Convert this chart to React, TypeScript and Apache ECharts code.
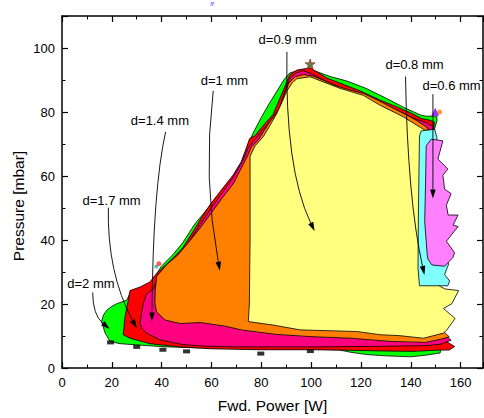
import React, { useEffect, useRef } from "react";
import * as echarts from "echarts";

const FONT = '"Liberation Sans", Arial, Helvetica, sans-serif';

// Axis ranges / ticks
const X_MIN = 0;
const X_MAX = 169;
const X_STEP = 20;
const Y_MIN = 0;
const Y_MAX = 110;
const Y_STEP = 20;

// Existence regions, one polygon per discharge gap d ([power W, pressure mbar])
const REGION_NAMES = ["d=2 mm", "d=1.7 mm", "d=1.4 mm", "d=1 mm", "d=0.9 mm", "d=0.8 mm", "d=0.6 mm"];
const REGION_COLORS = ["#00ff00", "#ff0000", "#ff0080", "#ff8000", "#ffff80", "#80ffff", "#ff80ff"];

const REGION_2MM: number[][] = [
  [15.9, 14.5], [16.6, 16.5], [17.9, 18], [20, 19.3], [22, 20.1], [26, 21.2], [27.3, 23.4], [31.3, 24.9],
  [35.3, 26.5], [38, 29.5], [40, 31.9], [44.5, 35.4], [48.5, 39.2], [53.3, 45], [56, 47.5], [59.3, 50.6],
  [64, 55.3], [68.7, 59.9], [72, 64.2], [74.1, 68.6], [76.7, 73.4], [80, 78.3], [83, 82.4], [86.1, 86.3],
  [89, 90], [91.4, 92.2], [95.4, 93.1], [99.4, 93.4], [103, 92.4], [107.6, 91.1], [114.3, 89.7], [122, 87.4],
  [130.4, 84.2], [137, 81.5], [143.8, 79.1], [146, 78.7], [150.5, 78.7], [150.5, 77.2], [149.3, 74], [149, 27],
  [152, 12], [152, 6], [151.8, 4.7], [146, 4], [140, 3.5], [130, 3.8], [122.4, 4.2], [116, 4.9], [111.6, 5.6],
  [100, 5.9], [80, 5.9], [60, 6.2], [42, 6.6], [34, 7], [23.3, 7.6], [19.3, 8.3], [17.3, 10.9],
];

const REGION_1_7MM: number[][] = [
  [24.6, 10.4], [25.3, 16], [26.6, 21.1], [27.3, 24.2], [31.3, 25.3], [35.3, 26.9], [37.3, 28.9], [40.1, 31.1],
  [44.5, 34.3], [48.5, 37.6], [53.3, 43.5], [56, 47], [59.3, 50.9], [64, 55.7], [68.7, 60.3], [72, 64.5],
  [74.1, 69], [75.3, 71.7], [77.5, 72.6], [80.5, 75.5], [84.7, 79.2], [88.7, 86.5], [91.4, 91.6], [94.3, 93.1],
  [99.6, 93.8], [103, 92.2], [106.3, 90.6], [112, 88.9], [120, 86.5], [128, 83.6], [134.4, 81.6], [139.8, 79.8],
  [144.5, 77.9], [147.8, 77.4], [149.5, 76.8], [149, 74], [149, 27], [152, 12], [154.5, 8.2], [157.6, 6.7],
  [155.5, 5.6], [151.8, 5.6], [141, 5.2], [130, 5.3], [111.6, 5.6], [100, 5.7], [80, 5.7], [60, 6],
  [47.4, 6.6], [35.3, 7.6], [27.3, 9.3],
];

const REGION_1_4MM: number[][] = [
  [36.7, 24.7], [34, 23.2], [32.6, 20.1], [31.8, 16.5], [31.3, 13.9], [32.2, 12.2], [34, 10.9], [39.4, 8.8],
  [43.4, 8.1], [48.7, 7.3], [58.1, 6.8], [70, 6.6], [100, 6.6], [130, 6.8], [146, 7], [151.8, 7.4],
  [156.2, 8.7], [154.5, 9.8], [152, 11.5], [149, 27], [149, 74], [149.3, 75.3], [146.4, 76.6], [142, 77.8],
  [136, 80], [128, 83], [120, 85.5], [112, 87.6], [106, 89.6], [100, 92], [96.9, 92.9], [94, 92.2],
  [91.6, 90.6], [89.5, 86.5], [87.4, 81.3], [84, 77.5], [80, 73.8], [77, 71], [74.7, 68.6], [72.5, 64.8],
  [68.7, 59.5], [65, 55.5], [62, 52.2], [58, 47.8], [53.5, 42.5], [49, 37], [45, 33.8], [41, 30.8], [38.5, 28.2],
];

const REGION_1MM: number[][] = [
  [38, 28.6], [37.4, 24], [37.3, 20.1], [38, 17.5], [41.4, 15], [47.4, 13.9], [55.4, 14.2], [60.8, 13.6],
  [66, 13], [72, 11.9], [86, 10.5], [100, 9.8], [116, 9.3], [132, 8.3], [146, 8], [152, 9], [155.5, 9.7],
  [153, 11.5], [149, 27], [149, 74], [146.8, 74.6], [146.4, 75.3], [142.4, 77.3], [139, 78.8], [134.4, 80.6],
  [127, 83.6], [121, 85.8], [115, 87], [110, 88.2], [104.9, 89.9], [101, 91.2], [97, 91.7], [93.5, 91],
  [91, 89], [89, 85], [87, 80.5], [83, 76.5], [79, 71.5], [76, 69], [74.5, 66.3], [72, 62.5], [68.8, 57.6],
  [64, 52.8], [60, 48.5], [55.4, 43.7], [50, 38.5], [46.5, 35.3], [42, 32.3],
];

const REGION_0_9MM: number[][] = [
  [74.8, 14.5], [75.2, 20], [75.5, 40], [75.5, 66.2], [77.5, 69.4], [80.8, 72.3], [83.5, 75.8], [86.2, 79.5],
  [88, 82.5], [90.2, 86.5], [92.5, 89.2], [94.3, 90.4], [99.6, 91], [104.9, 89.4], [111.6, 87.4], [121, 85.2],
  [127.7, 82.1], [137, 78.5], [143.8, 75.2], [145.8, 74.3], [148, 73], [149, 27], [152, 25.4], [153.8, 24.7],
  [159.2, 24.2], [156.5, 20.1], [153.1, 18.6], [157.8, 15.5], [154.5, 11.9], [153.1, 10.9], [145.1, 9.3],
  [135.7, 10.1], [127.7, 10.4], [118.3, 11.4], [95.6, 11.9], [84.9, 13.4],
];

const REGION_0_8MM: number[][] = [
  [143.5, 72.5], [144.2, 74.1], [149.6, 74.6], [150.5, 72], [150.5, 60], [152, 45], [153.5, 36], [155.2, 32.5],
  [153.6, 29.2], [155.6, 27.2], [154.9, 25.7], [143.5, 25.7], [142.9, 31.3], [143.1, 50],
];

const REGION_0_6MM: number[][] = [
  [148.2, 71.5], [152.9, 71], [150.9, 65.3], [154.9, 62.2], [152.9, 60.2], [153.6, 55.9], [156.2, 54.5],
  [154.3, 50.9], [155, 47.8], [159, 47.8], [157, 44.7], [159, 44.2], [154.3, 39.6], [157.6, 36], [156.9, 34.5],
  [153.6, 31.8], [148.5, 32.2], [146.9, 34], [146.6, 35.4], [145.6, 45.7], [146, 60], [146.2, 69.4],
];

const REGIONS = [REGION_2MM, REGION_1_7MM, REGION_1_4MM, REGION_1MM, REGION_0_9MM, REGION_0_8MM, REGION_0_6MM];

// Annotation labels (centre, data units) and their arrows: [start, control, tip]
const LABEL_ANCHORS: number[][] = [
  [11.6, 26.5], [19.9, 52.2], [39.3, 77.2], [65.2, 89.8], [90.6, 102.6], [141.5, 94.9], [156.4, 88.2],
];
const ARROW_PATHS: number[][][] = [
  [[12.3, 23.6], [12.4, 16.5], [19.2, 12.2]],
  [[18.6, 50.1], [18.1, 29.7], [30, 12.4]],
  [[41.6, 73.8], [36.5, 56.1], [36.1, 14.5]],
  [[60.7, 86.6], [56.5, 59.1], [63.4, 30.4]],
  [[90.3, 98.8], [89.4, 62.3], [101.4, 42.8]],
  [[137.9, 91.1], [138.7, 52.9], [145.5, 29.1]],
  [[148.9, 85.6], [148.9, 70], [148.9, 53]],
];

// Measured points
const BASE_MARKS_X = [19.5, 30, 40.5, 50, 79.8, 99.7];
const BASE_MARKS_Y = [8.0, 6.6, 5.7, 5.2, 4.5, 5.3];
const STAR_POINT = [99.6, 95];
const TRIANGLE_POINT = [149.8, 80.1];
const ORANGE_DOT = [151.6, 80];
const RED_DOT = [38.9, 32.6];
const CYAN_DOT = [37.9, 31.7];

const STAR_PATH = "path://M50,0 L61,35 L98,35 L68,57 L79,91 L50,70 L21,91 L32,57 L2,35 L39,35 Z";

function axisCommon(showLabels: boolean, isX: boolean) {
  return {
    type: "value" as const,
    min: isX ? X_MIN : Y_MIN,
    max: isX ? X_MAX : Y_MAX,
    interval: isX ? X_STEP : Y_STEP,
    axisLine: { show: true, onZero: false, lineStyle: { color: "#000", width: 1.5 } },
    axisTick: { show: true, inside: true, length: 6, lineStyle: { color: "#000", width: 1.2 } },
    minorTick: { show: true, splitNumber: 2, length: 3.5, lineStyle: { color: "#000", width: 1 } },
    axisLabel: {
      show: showLabels,
      color: "#000",
      fontSize: 13,
      fontFamily: FONT,
      margin: isX ? 8 : 7,
      showMaxLabel: false,
    },
    splitLine: { show: false },
  };
}

export default function App() {
  const ref = useRef<HTMLDivElement>(null);

  useEffect(() => {
    if (!ref.current) return;
    const chart = echarts.init(ref.current, undefined, { renderer: "svg" });

    const option: any = {
      animation: false,
      grid: { left: 62, right: 1, top: 16, bottom: 47, containLabel: false },
      xAxis: [
        {
          ...axisCommon(true, true),
          position: "bottom",
          name: "Fwd. Power [W]",
          nameLocation: "middle",
          nameGap: 29,
          nameTextStyle: { fontSize: 15.5, fontFamily: FONT, color: "#000" },
        },
        { ...axisCommon(false, true), position: "top" },
      ],
      yAxis: [
        { ...axisCommon(true, false), position: "left" },
        { ...axisCommon(false, false), position: "right" },
      ],
      graphic: [
        {
          type: "text",
          x: 18,
          y: 206,
          rotation: Math.PI / 2,
          style: {
            text: "Pressure [mbar]",
            fontSize: 15.5,
            fontFamily: FONT,
            fill: "#000",
            align: "center",
            verticalAlign: "middle",
          },
        },
        {
          type: "text",
          x: 212,
          y: 1,
          style: {
            text: "ff",
            fontSize: 6,
            fontStyle: "italic",
            fontFamily: FONT,
            fill: "#3030ff",
            align: "center",
            verticalAlign: "top",
          },
        },
      ],
      series: [
        {
          type: "custom",
          name: "regions",
          silent: true,
          z: 2,
          data: REGIONS.map((r) => [r[0][0], r[0][1]]),
          renderItem: (params: any, api: any) => {
            const poly = REGIONS[params.dataIndex];
            const pts = poly.map((p) => api.coord(p));
            return {
              type: "polygon",
              shape: { points: pts },
              style: { fill: REGION_COLORS[params.dataIndex], stroke: "#000", lineWidth: 0.8 },
            };
          },
        },
        {
          type: "scatter",
          silent: true,
          z: 4,
          symbol: "rect",
          symbolSize: [7, 4],
          itemStyle: { color: "#000" },
          data: BASE_MARKS_X.map((x, i) => [x, BASE_MARKS_Y[i]]),
        },
        {
          type: "scatter",
          silent: true,
          z: 4,
          symbol: STAR_PATH,
          symbolSize: 10,
          itemStyle: { color: "#1f6b1f", borderColor: "#b03020", borderWidth: 1 },
          data: [STAR_POINT],
        },
        {
          type: "scatter",
          silent: true,
          z: 4,
          symbol: "circle",
          symbolSize: 5,
          itemStyle: { color: "#ff8000" },
          data: [ORANGE_DOT],
        },
        {
          type: "scatter",
          silent: true,
          z: 4,
          symbol: "triangle",
          symbolSize: 8,
          itemStyle: { color: "#8000ff" },
          data: [TRIANGLE_POINT],
        },
        {
          type: "scatter",
          silent: true,
          z: 4,
          symbol: "circle",
          symbolSize: 4,
          itemStyle: { color: "#20b0b0" },
          data: [CYAN_DOT],
        },
        {
          type: "scatter",
          silent: true,
          z: 4,
          symbol: "circle",
          symbolSize: 5,
          itemStyle: { color: "#ff3030" },
          data: [RED_DOT],
        },
        {
          type: "custom",
          name: "annotations",
          silent: true,
          z: 6,
          clip: false,
          data: ARROW_PATHS.map((a) => [a[2][0], a[2][1]]),
          renderItem: (params: any, api: any) => {
            const i = params.dataIndex;
            const [a, c, b] = ARROW_PATHS[i];
            const p0 = api.coord(a);
            const p1 = api.coord(c);
            const p2 = api.coord(b);
            const dx = p2[0] - p1[0];
            const dy = p2[1] - p1[1];
            const len = Math.hypot(dx, dy) || 1;
            const ux = dx / len;
            const uy = dy / len;
            const headLen = 9;
            const headW = 2.8;
            const base = [p2[0] - ux * headLen, p2[1] - uy * headLen];
            const left = [base[0] - uy * headW, base[1] + ux * headW];
            const right = [base[0] + uy * headW, base[1] - ux * headW];
            const tp = api.coord(LABEL_ANCHORS[i]);
            return {
              type: "group",
              children: [
                {
                  type: "bezierCurve",
                  shape: { x1: p0[0], y1: p0[1], cpx1: p1[0], cpy1: p1[1], x2: base[0], y2: base[1] },
                  style: { stroke: "#000", lineWidth: 0.9, fill: "none" },
                },
                {
                  type: "polygon",
                  shape: { points: [p2, left, right] },
                  style: { fill: "#000" },
                },
                {
                  type: "text",
                  x: tp[0],
                  y: tp[1],
                  style: {
                    text: REGION_NAMES[i],
                    fontSize: 13,
                    fontFamily: FONT,
                    fill: "#000",
                    align: "center",
                    verticalAlign: "middle",
                  },
                },
              ],
            };
          },
        },
      ],
    };

    chart.setOption(option);
    return () => chart.dispose();
  }, []);

  return (
    <div
      ref={ref}
      style={{ position: "fixed", left: 0, top: 0, width: 484, height: 418, background: "#fff" }}
    />
  );
}
